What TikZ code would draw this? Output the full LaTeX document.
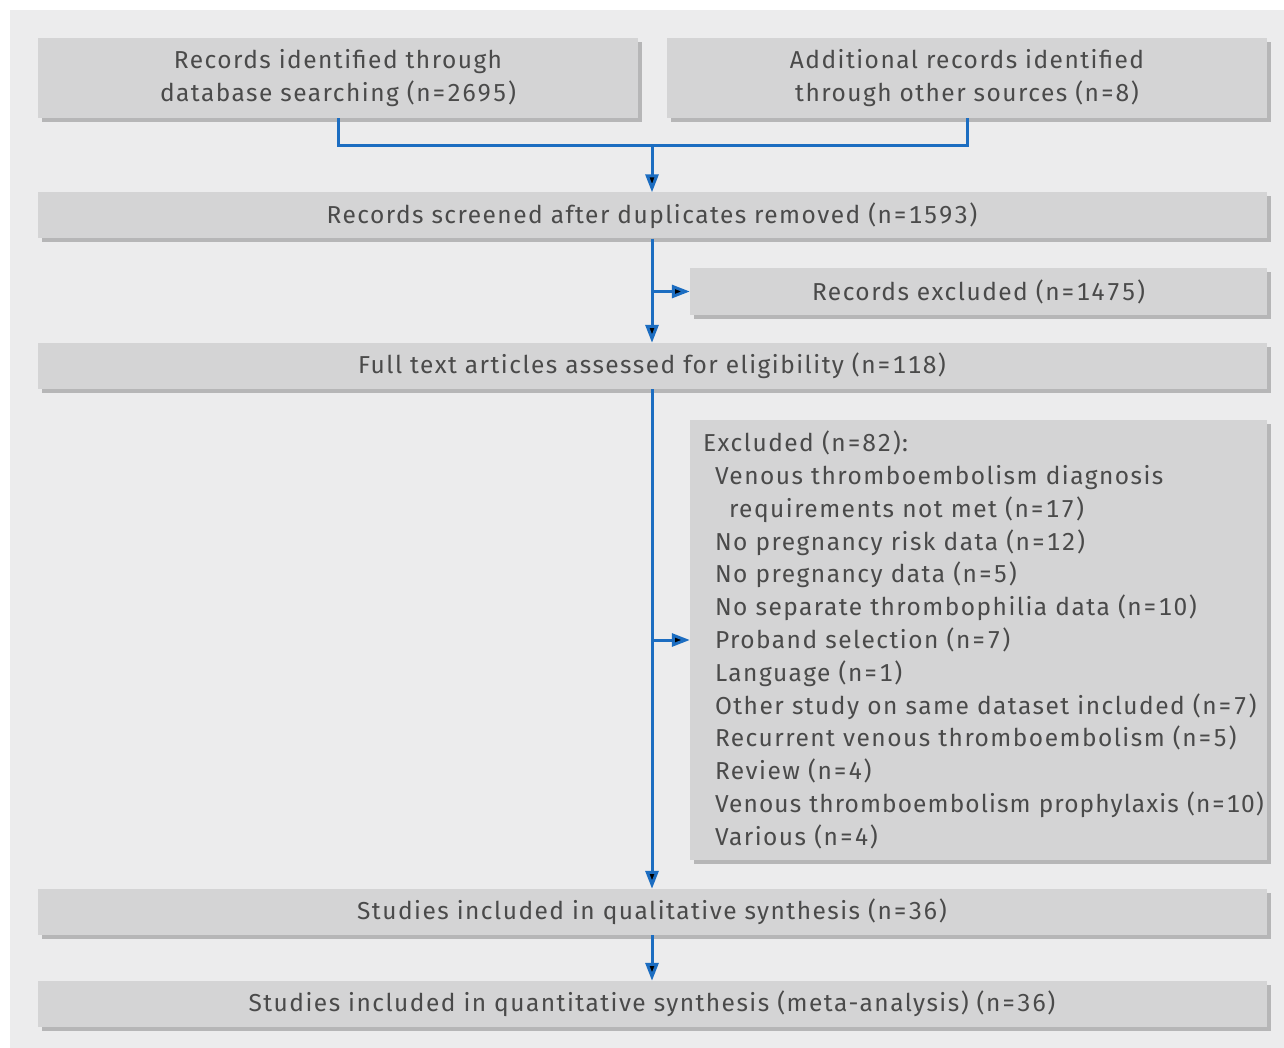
\documentclass[tikz,border=0pt]{standalone}
\usepackage{fontspec}
\setmainfont{Fira Sans}[LetterSpace=6, Numbers=Monospaced]
\usetikzlibrary{arrows.meta,shadows}
\definecolor{panel}{HTML}{ECECED}
\definecolor{boxgray}{HTML}{D4D4D5}
\definecolor{shadowgray}{HTML}{B6B6B7}
\definecolor{txtgray}{HTML}{4A4A4A}
\definecolor{flowblue}{HTML}{1C6DC1}
\newcommand{\reason}[2][25pt]{\hspace*{#1}\mbox{#2}}
\begin{document}
\begin{tikzpicture}[x=1pt,y=-1pt,>={Triangle[length=18pt,width=13pt]},
  box/.style={fill=boxgray, text=txtgray, inner sep=0pt, font=\fontsize{24.5}{32.8}\selectfont,
    drop shadow={shadow xshift=4pt, shadow yshift=-4pt, fill=shadowgray, opacity=1}},
  wide/.style={box, minimum width=1229pt, minimum height=46pt},
  flow/.style={draw=flowblue, line width=3pt}]
\useasboundingbox (0,0) rectangle (1284,1048);
\fill[panel] (10,10) rectangle (1284,1048);

\node(Ident)[box, minimum width=600pt, minimum height=80pt, align=center] at (338,78) {Records identified through\\database searching (n=2695)};
\node(Other)[box, minimum width=600pt, minimum height=80pt, align=center] at (967,78) {Additional records identified\\through other sources (n=8)};

\node(Screen)[wide] at (652,215.5) {Records screened after duplicates removed (n=1593)};
\node(Drop)[box, minimum width=577pt, minimum height=47pt] at (978.5,291.5) {Records excluded (n=1475)};
\node(Full)[wide] at (652,366) {Full text articles assessed for eligibility (n=118)};
\node(Reasons)[box, minimum height=440pt, text width=577pt, align=left] at (978.5,640) {\reason[13pt]{Excluded (n=82):}\\
\reason{Venous thromboembolism diagnosis}\\
\reason[39pt]{requirements not met (n=17)}\\
\reason{No pregnancy risk data (n=12)}\\
\reason{No pregnancy data (n=5)}\\
\reason{No separate thrombophilia data (n=10)}\\
\reason{Proband selection (n=7)}\\
\reason{Language (n=1)}\\
\reason{Other study on same dataset included (n=7)}\\
\reason{Recurrent venous thromboembolism (n=5)}\\
\reason{Review (n=4)}\\
\reason{\addfontfeature{LetterSpace=4.5}Venous thromboembolism prophylaxis (n=10)}\\
\reason{Various (n=4)}};
\node(Qual)[wide] at (652,912) {Studies included in qualitative synthesis (n=36)};
\node(Quant)[wide] at (652,1004) {Studies included in quantitative synthesis (meta-analysis) (n=36)};

\coordinate(Join) at (652,146);
\coordinate(Br1) at (652,291.5);
\coordinate(Br2) at (652,640);

\draw[flow] (Ident.south) |- (Join) -| (Other.south);
\draw[flow] (Join) edge[->] (Screen.north);
\draw[flow] (Screen.south) edge[->] (Full.north);
\draw[flow] (Br1) edge[->] (Drop.west);
\draw[flow] (Full.south) edge[->] (Qual.north);
\draw[flow] (Br2) edge[->] (Reasons.west);
\draw[flow] (Qual.south) edge[->] (Quant.north);
\end{tikzpicture}
\end{document}
